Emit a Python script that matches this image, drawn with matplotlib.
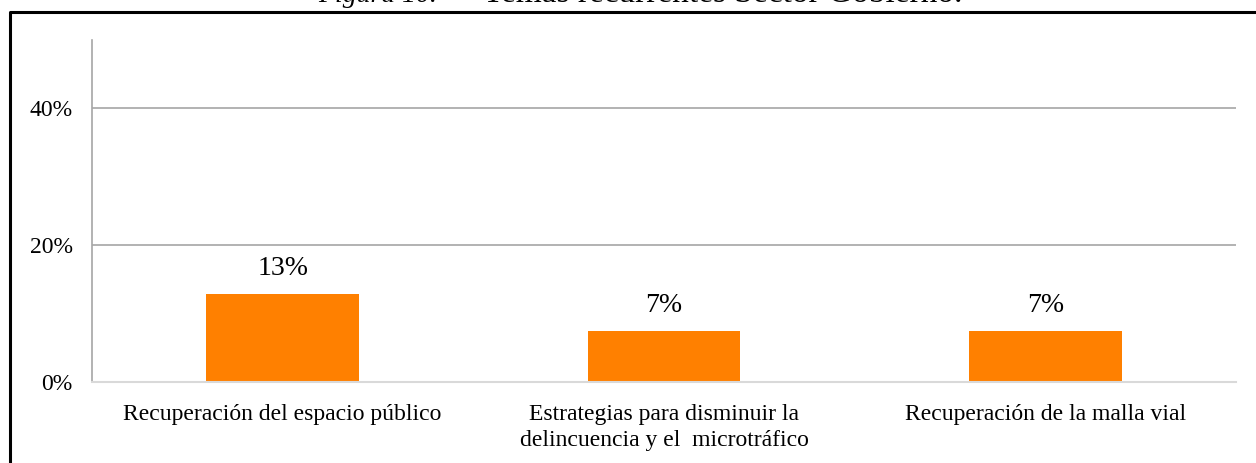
import matplotlib
matplotlib.use("Agg")
import matplotlib.pyplot as plt
from matplotlib.lines import Line2D

# Datos
categorias = ["Recuperación del espacio público",
              "Estrategias para disminuir la\ndelincuencia y el  microtráfico",
              "Recuperación de la malla vial"]
valores = [12.9, 7.5, 7.5]
etiquetas = ["13%", "7%", "7%"]
ticks_y = [0, 20, 40]

W, H = 1256, 463
fig = plt.figure(figsize=(W / 100, H / 100), dpi=100)
serif = "Liberation Serif"

ax = fig.add_axes([92 / W, (H - 382) / H, (1236 - 92) / W, (382 - 40) / H])
x = range(len(categorias))
barras = ax.bar(x, valores, width=0.4, color="#FF8000", zorder=2)

ax.set_xlim(-0.5, len(categorias) - 0.5)
ax.set_ylim(0, 50)
ax.set_yticks(ticks_y)
ax.set_yticklabels([f"{v}%" for v in ticks_y], fontsize=17, family=serif)
ax.set_xticks(list(x))
ax.set_xticklabels(categorias, fontsize=17, family=serif, linespacing=1.3)
ax.tick_params(axis="y", length=0, pad=14)
ax.tick_params(axis="x", length=0, pad=16)

# lineas de cuadricula
ax.grid(axis="y", color="#A6A6A6", linewidth=1.2, zorder=1)
ax.set_axisbelow(True)
for s in ["top", "right"]:
    ax.spines[s].set_visible(False)
ax.spines["left"].set_color("#A6A6A6")
ax.spines["left"].set_linewidth(1.2)
ax.spines["bottom"].set_color("#D9D9D9")
ax.spines["bottom"].set_linewidth(1.5)

# Valores encima de las barras
for b, t in zip(barras, etiquetas):
    ax.annotate(t, (b.get_x() + b.get_width() / 2, b.get_height()),
                xytext=(0, 9), textcoords="offset points",
                ha="center", va="bottom", fontsize=20, family=serif)

# Titulo (recortado arriba) y marco
fig.text(437 / W, 1 - 2 / H, "Figura 10.", fontsize=20, family=serif,
         style="italic", ha="right", va="baseline")
fig.text(483 / W, 1 - 2 / H, "Temas recurrentes Sector Gobierno.", fontsize=24,
         family=serif, ha="left", va="baseline")
fig.add_artist(Line2D([10 / W, 10 / W, 1], [0, 1 - 12 / H, 1 - 12 / H],
                      transform=fig.transFigure, color="black", linewidth=2.2))

fig.savefig("out.png", dpi=100)
